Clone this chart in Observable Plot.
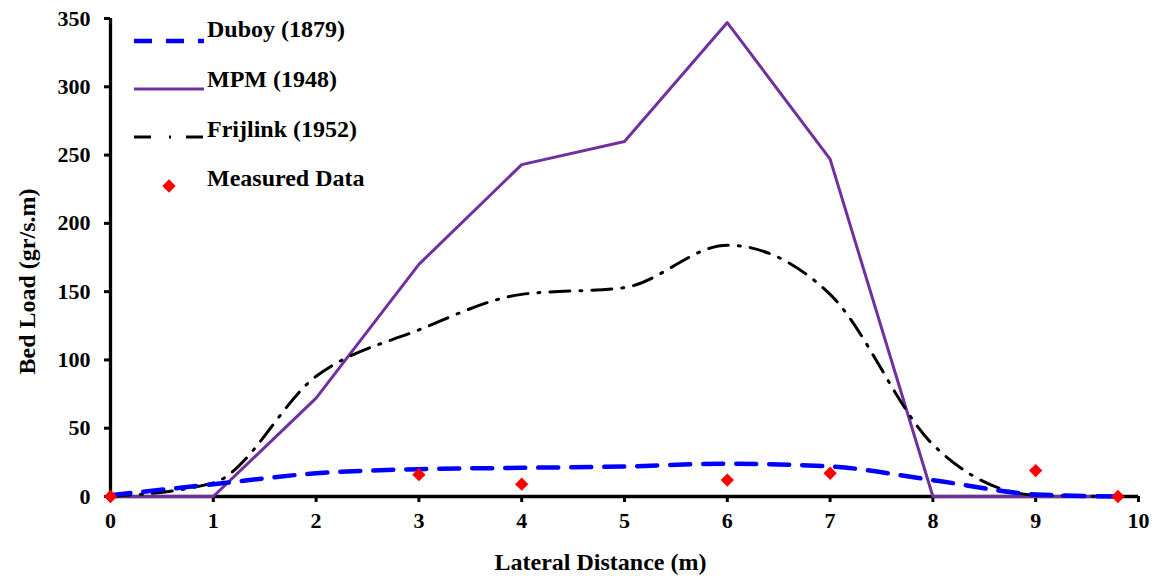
<!DOCTYPE html>
<html>
<head>
<meta charset="utf-8">
<script src="https://cdn.jsdelivr.net/npm/d3@7"></script>
<script src="https://cdn.jsdelivr.net/npm/@observablehq/plot@0.6"></script>
<style>
  html, body { margin: 0; padding: 0; background: white; }
</style>
</head>
<body>
<div id="chart"></div>
<script>
// Data
const distance = [0, 1, 2, 3, 4, 5, 6, 7, 8, 9, 9.8];
const duboy    = [1, 9, 17, 20, 21, 22, 24, 22, 12, 1.5, 0];
const mpm      = [0, 0, 72, 170, 243, 260, 347, 247, 0, 0, 0];
const frijlink = [0, 10, 88, 122, 148, 153, 184, 148, 38, 1, 0];
const measuredX = [0, 3, 4, 6, 7, 9, 9.8];
const measuredY = [0, 16, 9, 12, 17, 19, 0];
const xTicks = [0, 1, 2, 3, 4, 5, 6, 7, 8, 9, 10];
const yTicks = [0, 50, 100, 150, 200, 250, 300, 350];
const seriesNames = ["Duboy (1879)", "MPM (1948)", "Frijlink (1952)", "Measured Data"];

const toRows = (ys) => distance.map((x, i) => ({x, y: ys[i]}));
const measured = measuredX.map((x, i) => ({x, y: measuredY[i]}));
const serif = "'Liberation Serif', 'Times New Roman', serif";

const plot = Plot.plot({
  width: 1157,
  height: 576,
  marginLeft: 110,
  marginRight: 19,
  marginTop: 18,
  marginBottom: 80,
  style: {fontFamily: serif, fontSize: "22px", fontWeight: "bold", background: "white", color: "black"},
  x: {domain: [0, 10]},
  y: {domain: [0, 350]},
  marks: [
    Plot.ruleX([0], {stroke: "black", strokeWidth: 3.3}),
    Plot.ruleY([0], {stroke: "black", strokeWidth: 3.3}),
    Plot.axisX({ticks: xTicks, tickSize: 6, tickPadding: 10, strokeWidth: 3, label: null, tickFormat: d => d}),
    Plot.axisY({ticks: yTicks, tickSize: 6, tickPadding: 14, strokeWidth: 3, label: null, tickFormat: d => d}),
    Plot.line(toRows(mpm), {x: "x", y: "y", stroke: "#7030A0", strokeWidth: 3}),
    Plot.line(toRows(frijlink), {x: "x", y: "y", stroke: "black", strokeWidth: 3, curve: "monotone-x", strokeDasharray: "20,10,2,10"}),
    Plot.line(toRows(duboy), {x: "x", y: "y", stroke: "#0000FF", strokeWidth: 4.5, curve: "monotone-x", strokeDasharray: "20,13"}),
    Plot.dot(measured, {x: "x", y: "y", symbol: "diamond2", r: 6, fill: "#FF0000", stroke: "none"}),
    Plot.text(["Lateral Distance (m)"], {frameAnchor: "bottom", dy: 66, dx: -24, fontSize: 24, fontWeight: "bold", textAnchor: "middle", lineAnchor: "middle"}),
    Plot.text(["Bed Load (gr/s.m)"], {frameAnchor: "left", rotate: -90, dx: -83, dy: 24, fontSize: 24, fontWeight: "bold", textAnchor: "middle", lineAnchor: "middle"})
  ]
});

document.getElementById("chart").appendChild(plot);

// Legend (inside plot, top-left)
const svg = d3.select(plot);
const lg = svg.append("g").attr("font-size", 24).attr("font-weight", "bold")
  .attr("font-family", serif).attr("text-anchor", "start");
const rows = [
  {name: seriesNames[0], lineY: 41, textY: 37, kind: "line", stroke: "#0000FF", width: 4.5, dash: "18,14"},
  {name: seriesNames[1], lineY: 89, textY: 87, kind: "line", stroke: "#7030A0", width: 3, dash: null},
  {name: seriesNames[2], lineY: 137, textY: 137, kind: "line", stroke: "black", width: 3, dash: "17,18,2,15"},
  {name: seriesNames[3], lineY: 186, textY: 186, kind: "dot"}
];
rows.forEach(r => {
  if (r.kind === "line") {
    const l = lg.append("line").attr("x1", 134).attr("x2", 204).attr("y1", r.lineY).attr("y2", r.lineY)
      .attr("stroke", r.stroke).attr("stroke-width", r.width);
    if (r.dash) l.attr("stroke-dasharray", r.dash);
  } else {
    lg.append("path").attr("d", d3.symbol(d3.symbolDiamond2, Math.PI * 6 * 6)())
      .attr("transform", `translate(169,${r.lineY})`).attr("fill", "#FF0000");
  }
  lg.append("text").attr("x", 207).attr("y", r.textY).attr("fill", "black").text(r.name);
});
</script>
</body>
</html>
